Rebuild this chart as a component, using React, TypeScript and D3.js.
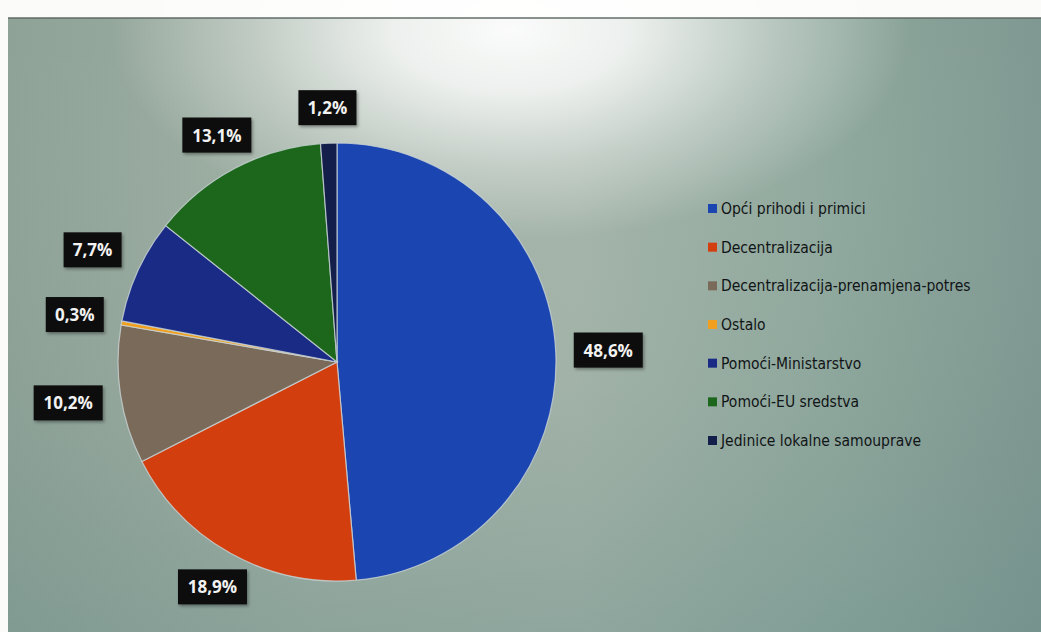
import React from "react";
import * as d3 from "d3";

const categories = [
  "Opći prihodi i primici",
  "Decentralizacija",
  "Decentralizacija-prenamjena-potres",
  "Ostalo",
  "Pomoći-Ministarstvo",
  "Pomoći-EU sredstva",
  "Jedinice lokalne samouprave",
];
const values = [48.6, 18.9, 10.2, 0.3, 7.7, 13.1, 1.2];
const labels = ["48,6%", "18,9%", "10,2%", "0,3%", "7,7%", "13,1%", "1,2%"];
const colors = ["#1b45b0", "#d23e0e", "#7a6a59", "#f0a01e", "#1a2b86", "#1c671b", "#131e4a"];

const W = 1041;
const H = 632;

export default function App() {
  const cx = 337;
  const cy = 362;
  const r = 219;
  const pie = d3.pie<number>().sort(null).value((d) => d)(values);
  const arc = d3.arc<d3.PieArcDatum<number>>().innerRadius(0).outerRadius(r);
  const color = d3.scaleOrdinal<string, string>().domain(categories).range(colors);

  const boxH = 35;
  const gap = 18;
  const labelPos = pie.map((p, i) => {
    const a = (p.startAngle + p.endAngle) / 2;
    const s = Math.sin(a);
    const c = -Math.cos(a);
    const w = labels[i].length * 11 + 14;
    const ex = Math.min(
      Math.abs(s) > 1e-6 ? w / 2 / Math.abs(s) : 1e9,
      Math.abs(c) > 1e-6 ? boxH / 2 / Math.abs(c) : 1e9
    );
    const d = r + gap + ex;
    return { x: cx + s * d, y: cy + c * d, w };
  });

  const legendY = d3.scalePoint<string>().domain(categories).range([209, 441]);

  return (
    <svg width={W} height={H} style={{ position: "absolute", left: 0, top: 0 }}>
      <defs>
        <linearGradient id="bgH" x1="0" x2="1" y1="0" y2="0">
          <stop offset="0" stopColor="#8ea297" />
          <stop offset="0.3" stopColor="#a1b1a5" />
          <stop offset="0.55" stopColor="#a4b4a9" />
          <stop offset="0.8" stopColor="#8fa89d" />
          <stop offset="1" stopColor="#7f9891" />
        </linearGradient>
        <linearGradient id="bgV" x1="0" x2="0" y1="0" y2="1">
          <stop offset="0" stopColor="#ffffff" stopOpacity="0" />
          <stop offset="0.6" stopColor="#6a8a86" stopOpacity="0.05" />
          <stop offset="1" stopColor="#5f8685" stopOpacity="0.3" />
        </linearGradient>
        <radialGradient id="glare" cx="0.5" cy="0.5" r="0.5">
          <stop offset="0" stopColor="#ffffff" stopOpacity="0.95" />
          <stop offset="0.3" stopColor="#ffffff" stopOpacity="0.8" />
          <stop offset="0.65" stopColor="#ffffff" stopOpacity="0.35" />
          <stop offset="1" stopColor="#ffffff" stopOpacity="0" />
        </radialGradient>
        <filter id="shadow" x="-20%" y="-20%" width="150%" height="160%">
          <feDropShadow dx="1.5" dy="2" stdDeviation="1.5" floodColor="#000" floodOpacity="0.35" />
        </filter>
      </defs>
      <rect x={0} y={0} width={W} height={H} fill="#fbfbf9" />
      <rect x={8} y={18} width={W - 8} height={H - 18} fill="url(#bgH)" />
      <rect x={8} y={18} width={W - 8} height={H - 18} fill="url(#bgV)" />
      <ellipse cx={510} cy={30} rx={400} ry={210} fill="url(#glare)" />
      <line x1={8} x2={W} y1={18} y2={18} stroke="#5a6560" strokeWidth={2} opacity={0.7} />

      <g transform={`translate(${cx},${cy})`}>
        {pie.map((p, i) => (
          <path
            key={categories[i]}
            d={arc(p) || ""}
            fill={color(categories[i])}
            stroke="#c9d3d6"
            strokeWidth={1.2}
            strokeOpacity={0.8}
          />
        ))}
      </g>

      {labelPos.map((lp, i) => (
        <g key={labels[i]}>
          <rect
            x={lp.x - lp.w / 2}
            y={lp.y - boxH / 2}
            width={lp.w}
            height={boxH}
            fill="#0c0c0c"
            filter="url(#shadow)"
          />
          <text
            x={lp.x}
            y={lp.y}
            textAnchor="middle"
            dominantBaseline="central"
            fill="#f2f2f2"
            fontFamily="'Open Sans', sans-serif"
            fontWeight={700}
            fontSize={17}
          >
            {labels[i]}
          </text>
        </g>
      ))}

      {categories.map((c) => (
        <g key={c} transform={`translate(708,${legendY(c)})`}>
          <rect x={0} y={-5} width={9} height={9} fill={color(c)} />
          <text
            x={13}
            y={0}
            dominantBaseline="central"
            fill="#111416"
            fontFamily="'DejaVu Sans Condensed', 'DejaVu Sans', sans-serif"
            fontStretch="condensed"
            fontSize={15.5}
          >
            {c}
          </text>
        </g>
      ))}
    </svg>
  );
}
